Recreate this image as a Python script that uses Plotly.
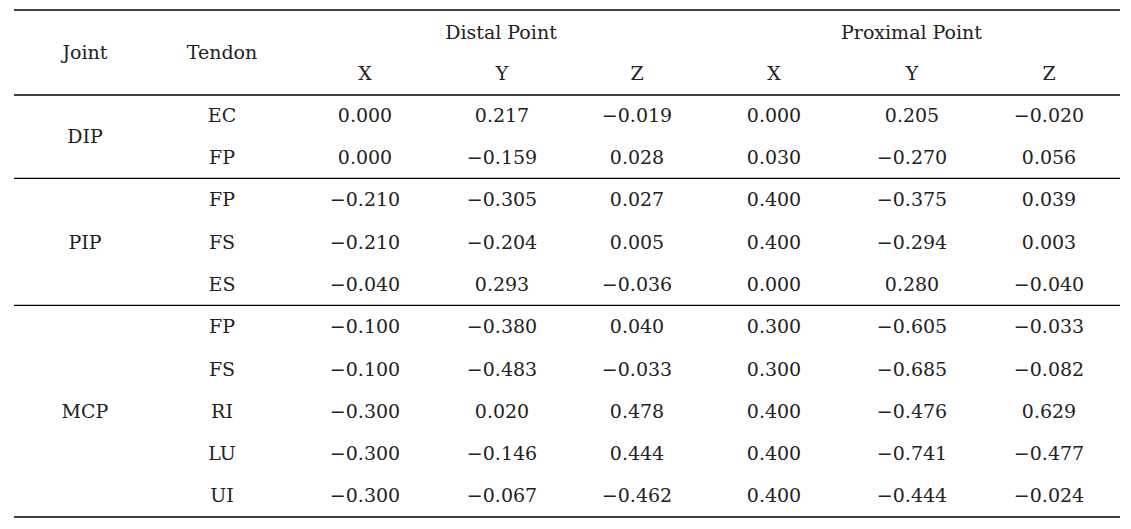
"""tendon attachment point table"""
import plotly.graph_objects as go

joints = ["DIP", "PIP", "MCP"]
tendons = [["EC", "FP"], ["FP", "FS", "ES"], ["FP", "FS", "RI", "LU", "UI"]]
groups = ["Distal Point", "Proximal Point"]
axes_names = ["X", "Y", "Z"]

distal_x = [0.000, 0.000, -0.210, -0.210, -0.040, -0.100, -0.100, -0.300, -0.300, -0.300]
distal_y = [0.217, -0.159, -0.305, -0.204, 0.293, -0.380, -0.483, 0.020, -0.146, -0.067]
distal_z = [-0.019, 0.028, 0.027, 0.005, -0.036, 0.040, -0.033, 0.478, 0.444, -0.462]
prox_x = [0.000, 0.030, 0.400, 0.400, 0.000, 0.300, 0.300, 0.400, 0.400, 0.400]
prox_y = [0.205, -0.270, -0.375, -0.294, 0.280, -0.605, -0.685, -0.476, -0.741, -0.444]
prox_z = [-0.020, 0.056, 0.039, 0.003, -0.040, -0.033, -0.082, 0.629, -0.477, -0.024]

W, H = 1131, 529
OFF = 8  # page body margin, so axis units = window pixels
FONT = dict(family="DejaVu Serif", size=19, color="#222222")

# layout (pixel coordinates on hidden axes)
col_x = [85, 222, 365, 502, 637, 774, 912, 1049]
row0, row_h = 117, 42.3
line_x0, line_x1 = 14, 1120


def fmt(v):
    s = f"{abs(v):.3f}"
    return ("\u2212" + s) if v < 0 else s


fig = go.Figure()

# header
hx = [col_x[0], col_x[1], (col_x[2] + col_x[4]) / 2, (col_x[5] + col_x[7]) / 2]
hy = [54, 54, 34, 34]
fig.add_trace(go.Scatter(x=hx, y=hy, mode="text", text=["Joint", "Tendon"] + groups,
                         textfont=FONT, hoverinfo="skip"))
fig.add_trace(go.Scatter(x=col_x[2:], y=[75] * 6, mode="text", text=axes_names * 2,
                         textfont=FONT, hoverinfo="skip"))

# body
columns = [distal_x, distal_y, distal_z, prox_x, prox_y, prox_z]
tx, ty, tt = [], [], []
jx, jy, jt = [], [], []
rule_y = [10, 95]
r = 0
for j, tlist in zip(joints, tendons):
    first = r
    for t in tlist:
        y = row0 + row_h * r
        tx.append(col_x[1]); ty.append(y); tt.append(t)
        for c, vals in enumerate(columns):
            tx.append(col_x[2 + c]); ty.append(y); tt.append(fmt(vals[r]))
        r += 1
    jx.append(col_x[0])
    jy.append(row0 + row_h * (first + r - 1) / 2)
    jt.append(j)
    rule_y.append(row0 - 2 + row_h * (r - 0.5))
rule_y[-1] = 517

fig.add_trace(go.Scatter(x=tx, y=ty, mode="text", text=tt, textfont=FONT, hoverinfo="skip"))
fig.add_trace(go.Scatter(x=jx, y=jy, mode="text", text=jt, textfont=FONT, hoverinfo="skip"))

for y in rule_y:
    fig.add_shape(type="line", x0=line_x0, x1=line_x1, y0=y, y1=y,
                  line=dict(color="black", width=1.3))

fig.update_layout(
    width=W, height=H,
    margin=dict(l=0, r=0, t=0, b=0),
    paper_bgcolor="white", plot_bgcolor="white",
    showlegend=False,
    xaxis=dict(range=[OFF, W + OFF], visible=False, fixedrange=True),
    yaxis=dict(range=[H + OFF, OFF], visible=False, fixedrange=True),
)

fig.write_html("out.html")
